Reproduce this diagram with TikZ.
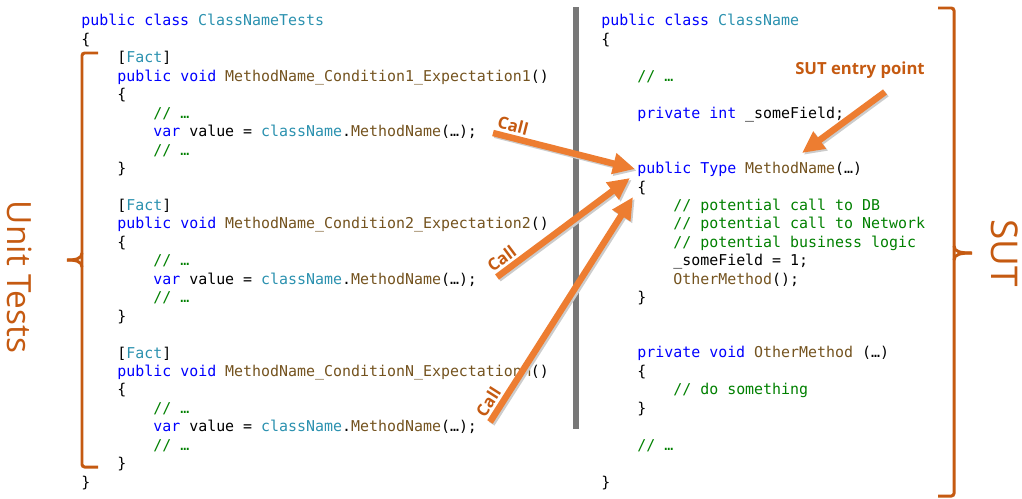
\documentclass[tikz,border=0pt]{standalone}
\usepackage{fontspec}
\setmonofont{DejaVu Sans Mono}
\setsansfont{Open Sans}
\usepackage{xcolor}
\usetikzlibrary{arrows.meta}
\definecolor{kwblue}{RGB}{0,0,255}
\definecolor{typeteal}{RGB}{43,145,175}
\definecolor{methbrown}{RGB}{116,83,31}
\definecolor{cmtgreen}{RGB}{0,128,0}
\definecolor{callorange}{RGB}{237,125,49}
\definecolor{sutorange}{RGB}{197,90,17}
\definecolor{bargray}{RGB}{120,120,120}
\newcommand{\kwd}[1]{\textcolor{kwblue}{#1}}
\newcommand{\typ}[1]{\textcolor{typeteal}{#1}}
\newcommand{\mth}[1]{\textcolor{methbrown}{#1}}
\newcommand{\cmt}[1]{\textcolor{cmtgreen}{#1}}
\newcommand{\indt}{\phantom{0000}}

\begin{document}
\begin{tikzpicture}[
  x=0.02cm, y=-0.02cm,
  code/.style={
    font=\ttfamily\fontsize{8.5}{10.49}\selectfont,
    align=left, anchor=base west, inner sep=0pt
  },
  brace/.style={draw=sutorange, line width=1.7pt, rounded corners=1.5pt},
  bar/.style={draw=bargray, line width=3.4pt},
  callarrow/.style={
    draw=callorange, line width=3.7pt, -{Triangle[length=12.5pt, width=11.5pt]},
    preaction={draw=black!20, line width=3.7pt, -{Triangle[length=12.5pt, width=11.5pt]},
      transform canvas={shift={(1pt,-1pt)}}}
  },
  calllbl/.style={font=\sffamily\bfseries\fontsize{9.5}{11}\selectfont,
    text=sutorange, sloped, above, inner sep=1.5pt},
  sidelbl/.style={font=\sffamily, text=sutorange, rotate=-90, inner sep=0pt}
]
\useasboundingbox (0,0) rectangle (1022,498);

  % Test class (left column), base = last line
\node[code] (tcls) at (81,44.4) {\kwd{public class} \typ{ClassNameTests}\\\{};
\node[code] (test1) at (117,173.5) {[\typ{Fact}]\\
  \kwd{public void} \mth{MethodName\_Condition1\_Expectation1}()\\
  \{\\
  \indt\cmt{// …}\\
  \indt\kwd{var} value = \typ{className}.\mth{MethodName}(…);\\
  \indt\cmt{// …}\\
  \}};
\node[code] (test2) at (117,321) {[\typ{Fact}]\\
  \kwd{public void} \mth{MethodName\_Condition2\_Expectation2}()\\
  \{\\
  \indt\cmt{// …}\\
  \indt\kwd{var} value = \typ{className}.\mth{MethodName}(…);\\
  \indt\cmt{// …}\\
  \}};
\node[code] (test3) at (117,468.6) {[\typ{Fact}]\\
  \kwd{public void} \mth{MethodName\_ConditionN\_ExpectationM}()\\
  \{\\
  \indt\cmt{// …}\\
  \indt\kwd{var} value = \typ{className}.\mth{MethodName}(…);\\
  \indt\cmt{// …}\\
  \}};
\node[code] (tend) at (81,487) {\}};

  % System under test (right column)
\node[code] (scls) at (601,44.4) {\kwd{public class} \typ{ClassName}\\\{};
\node[code] (field) at (637,118.2) {\cmt{// …}\\ \\
  \kwd{private int} \_someField;};
\node[code] (entry) at (637,302.6) {\kwd{public Type} \mth{MethodName}(…)\\
  \{\\
  \indt\cmt{// potential call to DB}\\
  \indt\cmt{// potential call to Network}\\
  \indt\cmt{// potential business logic}\\
  \indt\_someField = 1;\\
  \indt\mth{OtherMethod}();\\
  \}};
\node[code] (other) at (637,413.2) {\kwd{private void} \mth{OtherMethod} (…)\\
  \{\\
  \indt\cmt{// do something}\\
  \}};
\node[code] (tail) at (637,450.1) {\cmt{// …}};
\node[code] (send) at (601,487) {\}};

  % Separator and braces
\draw[bar] (576,7) -- (576,429);
\draw[brace] (98,53) -- (82,53) -- (82,467) -- (98,467);
\draw[brace] (82,253) .. controls (82,259) and (75,260) .. (67,260);
\draw[brace] (82,267) .. controls (82,261) and (75,260) .. (67,260);
\draw[brace] (938,8) -- (954,8) -- (954,496) -- (938,496);
\draw[brace] (954,246) .. controls (954,252) and (961,253) .. (972,253);
\draw[brace] (954,260) .. controls (954,254) and (961,253) .. (972,253);

\node[sidelbl, font=\sffamily\fontsize{19}{22}\selectfont] (utlbl) at (20,277) {Unit Tests};
\node[sidelbl, font=\sffamily\fontsize{21}{24}\selectfont] (sutlbl) at (1005,253) {SUT};
\node[font=\sffamily\bfseries\fontsize{9.5}{11}\selectfont, text=sutorange] (eplbl) at (860,70) {SUT entry point};

  % Call arrows
\coordinate (c1) at (493,133);
\coordinate (c2) at (497,277);
\coordinate (c3) at (490,422);
\coordinate (m1) at (635,169);
\coordinate (m2) at (630,178);
\coordinate (m3) at (633,197);
\coordinate (ept) at (885,92);
\coordinate (eph) at (802,153);
\draw[callarrow] (c1) -- (m1) node[calllbl, pos=0.12] {Call};
\draw[callarrow] (c2) -- (m2) node[calllbl, pos=0.09] {Call};
\draw[callarrow] (c3) -- (m3) node[calllbl, pos=0.06] {Call};
\draw[callarrow] (ept) -- (eph);

\end{tikzpicture}
\end{document}
